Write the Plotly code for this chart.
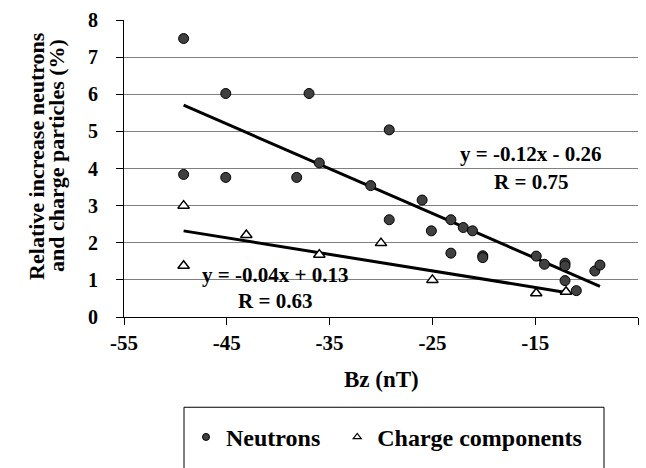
import numpy as np
import plotly.graph_objects as go

# Neutrons
neutron_bz = [-49.2, -49.2, -45.1, -45.1, -37.0, -38.2, -36.0, -31.0, -29.2, -29.2,
              -26.0, -25.1, -23.2, -23.2, -22.0, -21.1, -20.1, -20.1, -14.9, -14.1,
              -12.1, -12.1, -12.1, -11.0, -9.2, -8.7]
neutron_inc = [7.5, 3.84, 6.02, 3.76, 6.02, 3.76, 4.15, 3.54, 5.04, 2.62,
               3.15, 2.32, 2.62, 1.72, 2.41, 2.32, 1.65, 1.6, 1.64, 1.42,
               1.45, 1.38, 0.98, 0.71, 1.24, 1.40]
# Charge components
charge_bz = [-49.2, -49.2, -43.1, -36.0, -30.0, -25.0, -14.9, -12.0]
charge_inc = [3.0, 1.38, 2.21, 1.68, 1.99, 1.0, 0.64, 0.68]

x_ticks = [-55, -45, -35, -25, -15, -5]
y_ticks = [0, 1, 2, 3, 4, 5, 6, 7, 8]

eq_neutron = ["y = -0.12x - 0.26", "R = 0.75"]
eq_charge = ["y = -0.04x + 0.13", "R = 0.63"]
x_title = "Bz (nT)"
y_title = ["Relative increase neutrons", "and charge particles (%)"]
legend_names = ["Neutrons", "Charge components"]

FONT = "Liberation Serif"
L, R, T, B = 124, 638, 20, 326
W, H = 646, 468


def px_x(p):
    return (p - L) / (R - L)


def px_y(p):
    return (B - p) / (B - T)


def trend(xs, ys):
    k, b = np.polyfit(xs, ys, 1)
    xx = np.array([min(xs), max(xs)])
    return xx, k * xx + b


fig = go.Figure()
tx, ty = trend(neutron_bz, neutron_inc)
fig.add_trace(go.Scatter(x=tx, y=ty, mode="lines", line=dict(color="black", width=3),
                         showlegend=False, hoverinfo="skip"))
cx, cy = trend(charge_bz, charge_inc)
fig.add_trace(go.Scatter(x=cx, y=cy, mode="lines", line=dict(color="black", width=3),
                         showlegend=False, hoverinfo="skip"))
fig.add_trace(go.Scatter(x=neutron_bz, y=neutron_inc, mode="markers", name=legend_names[0],
                         showlegend=False,
                         marker=dict(symbol="circle", size=10, color="#404040",
                                     line=dict(color="black", width=1))))
fig.add_trace(go.Scatter(x=charge_bz, y=charge_inc, mode="markers", name=legend_names[1],
                         showlegend=False,
                         marker=dict(symbol="triangle-up", size=10, color="white",
                                     line=dict(color="black", width=1.5))))
# legend entries (smaller symbols, as in the reference legend)
fig.add_trace(go.Scatter(x=[None], y=[None], mode="markers",
                         name="<b>%s</b>&nbsp;&nbsp;" % legend_names[0],
                         marker=dict(symbol="circle", size=7, color="#404040",
                                     line=dict(color="black", width=1))))
fig.add_trace(go.Scatter(x=[None], y=[None], mode="markers",
                         name="<b>%s</b>" % legend_names[1],
                         marker=dict(symbol="triangle-up", size=7, color="white",
                                     line=dict(color="black", width=1.2))))

annots = [
    (530, 158, eq_neutron[0]),
    (531, 187, eq_neutron[1]),
    (275, 283, eq_charge[0]),
    (275, 310, eq_charge[1]),
]
for px, py, txt in annots:
    fig.add_annotation(x=px_x(px), y=px_y(py), xref="paper", yref="paper",
                       text="<b>%s</b>" % txt, showarrow=False,
                       font=dict(family=FONT, size=21, color="black"),
                       xanchor="center", yanchor="middle")

# axis titles
fig.add_annotation(x=px_x(381), y=px_y(390), xref="paper", yref="paper",
                   text="<b>%s</b>" % x_title, showarrow=False,
                   font=dict(family=FONT, size=23, color="black"),
                   xanchor="center", yanchor="middle")
for px, txt in zip([37, 57], y_title):
    fig.add_annotation(x=px_x(px), y=px_y(160), xref="paper", yref="paper",
                       text="<b>%s</b>" % txt, showarrow=False, textangle=-90,
                       font=dict(family=FONT, size=22, color="black"),
                       xanchor="center", yanchor="middle")

# legend box
fig.add_shape(type="rect", xref="paper", yref="paper",
              x0=px_x(184), x1=px_x(604), y0=px_y(490), y1=px_y(419),
              line=dict(color="black", width=1), fillcolor="white", layer="below")

fig.update_layout(
    width=W, height=H,
    margin=dict(l=L, r=W - R, t=T, b=H - B),
    paper_bgcolor="white", plot_bgcolor="white",
    font=dict(family=FONT, size=20, color="black"),
    showlegend=True,
    legend=dict(orientation="h", x=px_x(186), y=px_y(450),
                xanchor="left", yanchor="middle", bgcolor="rgba(0,0,0,0)",
                font=dict(family=FONT, size=24, color="black"),
                borderwidth=0),
    xaxis=dict(range=[-55, -5], tickvals=x_ticks, ticktext=["<b>%d</b>" % v for v in x_ticks],
               tickfont=dict(family=FONT, size=21),
               showgrid=False, zeroline=False, showline=True, linecolor="black", linewidth=1,
               ticks="outside", ticklen=7, tickcolor="black"),
    yaxis=dict(range=[0, 8], tickvals=y_ticks, ticktext=["<b>%d</b>" % v for v in y_ticks],
               tickfont=dict(family=FONT, size=20),
               showgrid=True, gridcolor="#808080", gridwidth=1, zeroline=False,
               showline=True, linecolor="black", linewidth=1,
               ticks="outside", ticklen=7, tickcolor="black", ticklabelstandoff=14),
)

fig.write_html("out.html")
